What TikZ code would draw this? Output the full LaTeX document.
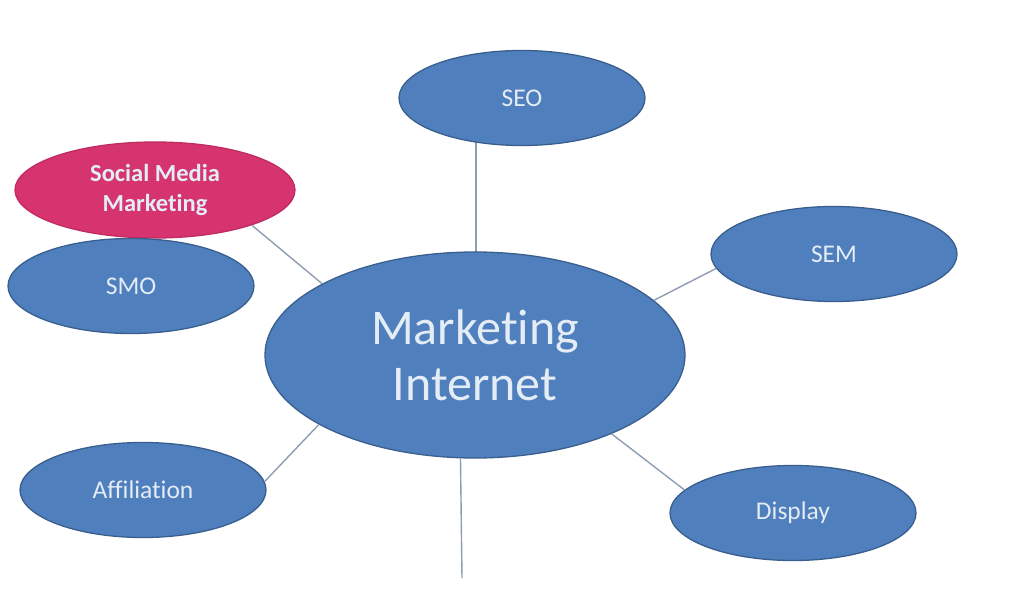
\documentclass[tikz,border=0pt]{standalone}
\usepackage{fontspec}
\setmainfont[Ligatures=NoCommon]{Carlito}
\usetikzlibrary{shapes.geometric,backgrounds}
\definecolor{bfill}{HTML}{4F7FBC}
\definecolor{bdraw}{HTML}{3A5F8E}
\definecolor{pfill}{HTML}{D6346F}
\definecolor{pdraw}{HTML}{C02B62}
\definecolor{txt}{HTML}{E4ECF6}
\definecolor{conn}{HTML}{8E9EB0}
\tikzset{
  bub/.style={ellipse, fill=bfill, draw=bdraw, line width=1.3pt, inner sep=0pt,
    minimum width=246pt, minimum height=95pt, text=txt, font=\fontsize{25.5}{30}\selectfont, align=center},
  pinkbub/.style={bub, fill=pfill, draw=pdraw, minimum width=280pt, minimum height=96pt,
    font=\bfseries\fontsize{24.5}{30}\selectfont},
  hub/.style={bub, minimum width=420pt, minimum height=206pt, font=\fontsize{50}{56}\selectfont},
  link/.style={draw=conn, line width=1.4pt}
}
\begin{document}
\begin{tikzpicture}[x=1pt,y=-1pt]
\useasboundingbox (0,0) rectangle (1024,601);
\node[hub] (mi) at (475,355) {Marketing\\Internet};
\node[bub] (seo) at (522,98) {SEO};
\node[pinkbub] (smm) at (155,190) {Social Media\\Marketing};
\node[bub] (smo) at (131,286) {SMO};
\node[bub] (sem) at (834,254) {SEM};
\node[bub] (aff) at (143,490) {Affiliation};
\node[bub] (dis) at (793,513) {Display};
\coordinate (free) at (462,578);
\begin{pgfonlayer}{background}
\fill[white] (0,0) rectangle (1024,601);
\draw[link] ([xshift=1pt]mi.center) -- ([xshift=1pt]mi.center |- seo.center);
\end{pgfonlayer}
\draw[link] (smm.340.7) -- (mi.155.4);
\draw[link] (sem.187.7) -- (mi.17.6);
\draw[link] (dis.168.2) -- (mi.330.9);
\draw[link] (aff.4.7) -- (mi.204.6);
\draw[link] (mi.262.8) -- (free);
\end{tikzpicture}
\end{document}
